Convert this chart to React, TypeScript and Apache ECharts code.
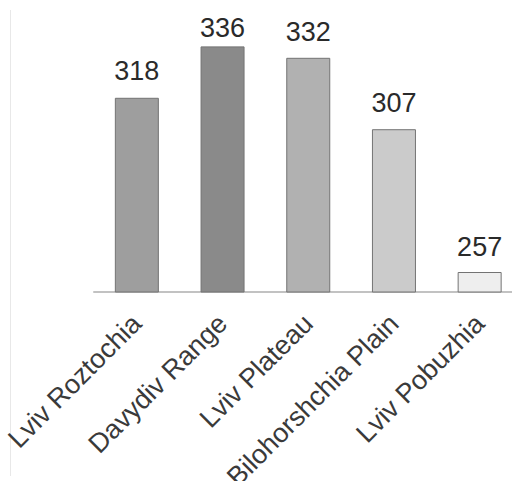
import React, { useEffect, useRef } from "react";
import * as echarts from "echarts";

const categories = ["Lviv Roztochia", "Davydiv Range", "Lviv Plateau", "Bilohorshchia Plain", "Lviv Pobuzhia"];
const values = [318, 336, 332, 307, 257];
const barColors = ["#9e9e9e", "#8a8a8a", "#b1b1b1", "#cbcbcb", "#eeeeee"];
const labelGaps = [13, 5, 12, 13, 12];
const yMin = 250;
const yMax = 350;

export default function App() {
  const ref = useRef<HTMLDivElement>(null);
  useEffect(() => {
    if (!ref.current) return;
    const chart = echarts.init(ref.current, undefined, { renderer: "svg" });
    chart.setOption({
      animation: false,
      backgroundColor: "#ffffff",
      grid: {
        left: 94,
        width: 428.5,
        top: 6.4,
        bottom: 189,
        containLabel: false,
        outerBoundsMode: "none",
      },
      xAxis: {
        type: "category",
        data: categories,
        axisLine: { show: true, lineStyle: { color: "#c2c2c2", width: 2 } },
        axisTick: { show: false },
        axisLabel: {
          rotate: 45,
          interval: 0,
          margin: 27,
          color: "#3a3a3a",
          fontSize: 27,
          fontFamily: "Liberation Sans, Arial, sans-serif",
        },
      },
      yAxis: {
        type: "value",
        show: false,
        min: yMin,
        max: yMax,
        splitLine: { show: false },
      },
      series: [
        {
          type: "bar",
          barWidth: 44,
          data: values.map((v, i) => ({
            value: v,
            itemStyle: { color: barColors[i], borderColor: "#737373", borderWidth: 1 },
            label: { distance: labelGaps[i] },
          })),
          label: {
            show: true,
            position: "top",
            color: "#2a2a2a",
            fontSize: 27,
            fontFamily: "Liberation Sans, Arial, sans-serif",
          },
        },
      ],
      graphic: [
        {
          type: "line",
          shape: { x1: 10.5, y1: 10, x2: 10.5, y2: 476 },
          style: { stroke: "#e8e8e8", lineWidth: 1 },
          z: -1,
        },
      ],
    });
    return () => chart.dispose();
  }, []);
  return (
    <div
      ref={ref}
      style={{ position: "fixed", left: 0, top: 0, width: 512, height: 481 }}
    />
  );
}
